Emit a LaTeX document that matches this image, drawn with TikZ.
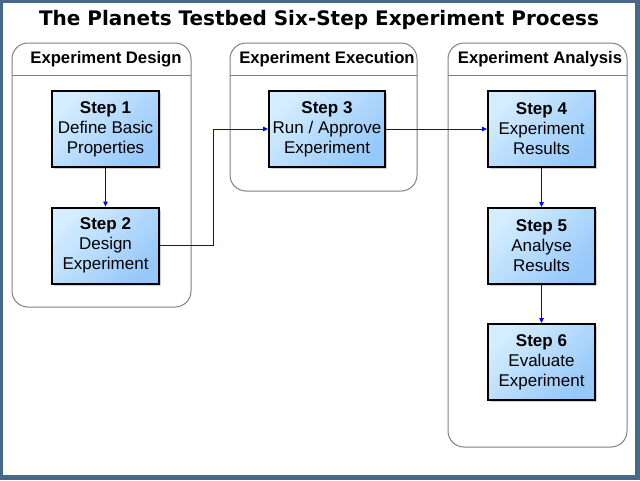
\documentclass[tikz,border=0pt]{standalone}
\usepackage{fontspec}
\setmainfont{Liberation Sans}
\newfontfamily\titlefont{DejaVu Sans}
\usetikzlibrary{arrows.meta,shadows}
\definecolor{frame}{RGB}{70,105,138}
\definecolor{boxlight}{RGB}{212,237,255}
\definecolor{boxdark}{RGB}{150,200,250}
\tikzset{
  lane/.style={draw=black!50, line width=1pt, rounded corners=16pt},
  laneline/.style={draw=black!50, line width=1pt},
  lanetitle/.style={font=\bfseries\fontsize{16.7}{18}\selectfont},
  stepbox/.style={draw=black, line width=2pt, minimum width=107pt, minimum height=76pt,
    align=center, top color=boxlight, bottom color=boxdark, shading angle=45,
    drop shadow={opacity=0.35, shadow xshift=2pt, shadow yshift=-2pt},
    font=\fontsize{17}{20}\selectfont},
  flow/.style={draw=blue, line width=0.8pt, -{Triangle[length=5pt,width=4.5pt]}}
}

\begin{document}
\begin{tikzpicture}[x=1pt,y=-1pt]
    % frame
    \fill [frame] (0,0) rectangle (640,480);
    \fill [white] (3,3) rectangle (635,475);
    \node [font=\titlefont\bfseries\fontsize{20}{22}\selectfont] (title) at (319,20)
        {The Planets Testbed Six-Step Experiment Process};

    % swim lanes
    \draw [lane] (12,43) rectangle (191,307);
    \draw [laneline] (12,75) -- (191,75);
    \node [lanetitle] (design) at (106,59) {Experiment Design};
    \draw [lane] (230,43) rectangle (417,191);
    \draw [laneline] (230,75) -- (417,75);
    \node [lanetitle] (execution) at (327,59) {Experiment Execution};
    \draw [lane] (448,43) rectangle (627,447);
    \draw [laneline] (448,75) -- (627,75);
    \node [lanetitle] (analysis) at (540,59) {Experiment Analysis};

    % steps
    \node [stepbox] (step1) at (105.5,129) {\textbf{Step 1}\\Define Basic\\Properties};
    \node [stepbox] (step2) at (105.5,245.5) {\textbf{Step 2}\\Design\\Experiment};
    \node [stepbox, minimum width=116pt] (step3) at (327,129) {\textbf{Step 3}\\Run / Approve\\Experiment};
    \node [stepbox] (step4) at (541.5,129) {\textbf{Step 4}\\Experiment\\Results};
    \node [stepbox] (step5) at (541.5,246) {\textbf{Step 5}\\Analyse\\Results};
    \node [stepbox] (step6) at (541.5,362) {\textbf{Step 6}\\Evaluate\\Experiment};

    % flow
    \coordinate (elbow) at (213,245.5);
    \draw [flow] (step1) -- (step2);
    \draw [flow] (step2.east) -- (elbow) |- (step3.west);
    \draw [flow] (step3) -- (step4);
    \draw [flow] (step4) -- (step5);
    \draw [flow] (step5) -- (step6);
\end{tikzpicture}
\end{document}
